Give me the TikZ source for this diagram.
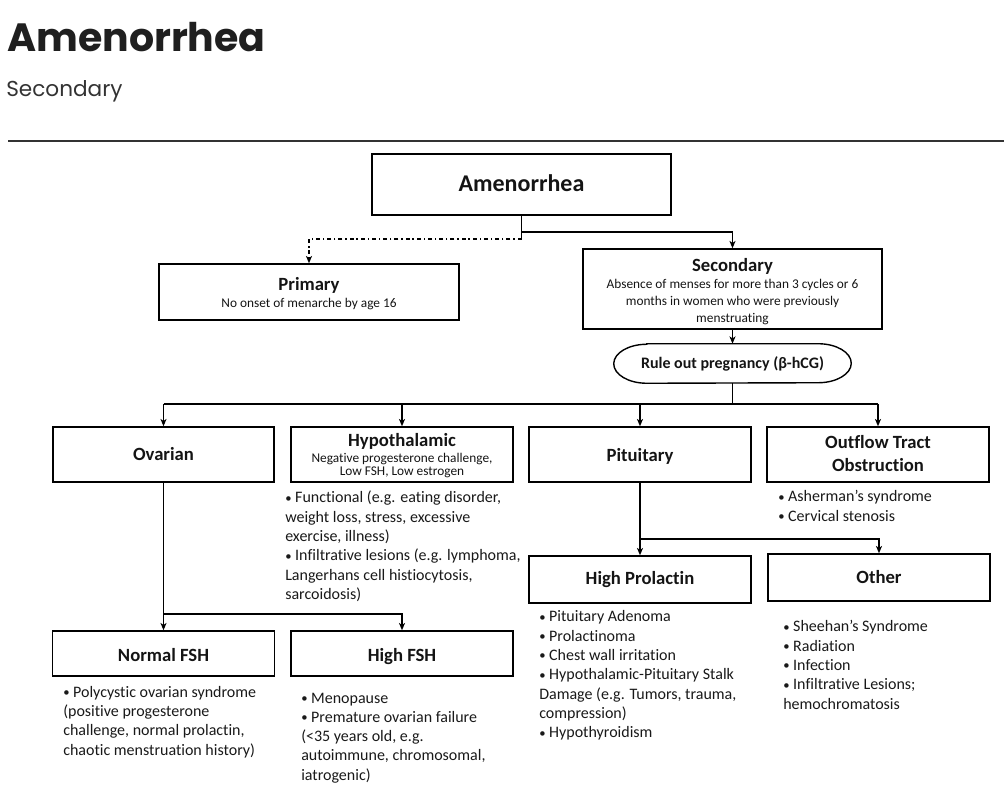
\documentclass[tikz,border=0pt]{standalone}
\usepackage{fontspec}
\setmainfont{Carlito}[Ligatures={NoCommon}]
\newfontfamily\headfont{Poppins}
\usetikzlibrary{arrows.meta}
\newcommand\bu{{\fontsize{9.5}{9.5}\selectfont\raisebox{0.6pt}{•}}\ }
\begin{document}
\begin{tikzpicture}[x=0.75pt,y=-0.75pt,
  sz/.style 2 args={minimum width=#1*0.75pt, minimum height=#2*0.75pt},
  box/.style={draw=black, line width=1.05pt, inner sep=0pt},
  lbl/.style={anchor=base, inner sep=0pt, text=black!92},
  ttl/.style={lbl, font=\fontsize{14}{17}\selectfont\bfseries},
  sub/.style={lbl, font=\fontsize{10}{12}\selectfont},
  conn/.style={draw=black, line width=1pt},
  arr/.style={conn, -{Stealth[length=5.5pt,width=4.5pt,inset=1.5pt]}},
  dashdot/.style={dash pattern=on 3pt off 2.2pt on 1pt off 2.2pt},
  bl/.style={anchor=base west, inner sep=0pt, text=black!90, font=\fontsize{12}{14.5}\selectfont}
]
\useasboundingbox (0,0) rectangle (1004,798);

% header
\node[anchor=base west, inner sep=0pt, text=black!88, font=\headfont\bfseries\fontsize{29.6}{34}\selectfont] (title) at (7,52) {Amenorrhea};
\node[anchor=base west, inner sep=0pt, text=black!80, font=\headfont\fontsize{16.2}{19}\selectfont] (subttl) at (6,97) {Secondary};
\coordinate (ruleL) at (8,141);
\coordinate (ruleR) at (1004,141);
\draw[line width=1pt, black!80] (ruleL) -- (ruleR);

% boxes
\node[box, sz={299}{61}] (amen) at (521.5,184.5) {};
\node[box, sz={300}{56}] (prim) at (309,292) {};
\node[box, sz={299}{80}] (sec) at (732.5,289) {};
\node[inner sep=0pt, sz={237}{39}, font=\fontsize{12}{14}\selectfont\bfseries, text=black!92] (rule) at (732.5,363.5) {Rule out pregnancy (β-hCG)};
\draw[line width=1.05pt] ([xshift=24.75pt]rule.north west) -- ([xshift=-24.75pt]rule.north east)
  arc[start angle=90, end angle=-90, x radius=24.75pt, y radius=14.625pt]
  -- ([xshift=24.75pt]rule.south west)
  arc[start angle=270, end angle=90, x radius=24.75pt, y radius=14.625pt] -- cycle;

\node[box, sz={221}{55}] (ovar) at (163.5,454.5) {};
\node[box, sz={222}{55}] (hypo) at (402,454.5) {};
\node[box, sz={222}{55}] (pit) at (640,454.5) {};
\node[box, sz={222}{55}] (out) at (878,454.5) {};

\node[box, sz={222}{45}] (nfsh) at (163.5,653.5) {};
\node[box, sz={222}{45}] (hfsh) at (402,653.5) {};
\node[box, sz={222}{47}] (hpro) at (640,579.5) {};
\node[box, sz={222}{47}] (oth) at (879,577.5) {};

% labels in boxes
\node[lbl, font=\fontsize{18}{22}\selectfont\bfseries] (amenT) at (521.5,192) {Amenorrhea};
\node[ttl] (primT) at (309,291) {Primary};
\node[sub] (primS) at (309,308) {No onset of menarche by age 16};
\node[ttl] (secT) at (732.5,272) {Secondary};
\node[sub] (secS) at (732.5,289) {\parbox[t]{220pt}{\centering\fontsize{10}{12.4}\selectfont Absence of menses for more than 3 cycles or 6\\ months in women who were previously\\ menstruating}};
\node[ttl] (ovarT) at (163.5,461) {Ovarian};
\node[ttl] (hypoT) at (402,447) {Hypothalamic};
\node[sub] (hypoS) at (402,463) {\parbox[t]{200pt}{\centering\fontsize{10}{9.75}\selectfont Negative progesterone challenge,\\ Low FSH, Low estrogen}};
\node[ttl] (pitT) at (640,462) {Pituitary};
\node[ttl] (outT) at (878,449) {\parbox[t]{200pt}{\centering\fontsize{14}{17.25}\selectfont Outflow Tract\\ Obstruction}};
\node[ttl] (nfshT) at (163.5,661) {Normal FSH};
\node[ttl] (hfshT) at (402,661) {High FSH};
\node[ttl] (hproT) at (640,585) {High Prolactin};
\node[ttl] (othT) at (879,584) {Other};

% bullet lists
\node[bl] (hypoL) at (285,503) {\parbox[t]{400pt}{\bu Functional (e.g. eating disorder,\\ weight loss, stress, excessive\\ exercise, illness)\\ \bu Infiltrative lesions (e.g. lymphoma,\\ Langerhans cell histiocytosis,\\ sarcoidosis)}};
\node[bl] (outL) at (778,502) {\parbox[t]{400pt}{\bu Asherman’s syndrome\\ \bu Cervical stenosis}};
\node[bl] (nfshL) at (63,697) {\parbox[t]{400pt}{\bu Polycystic ovarian syndrome\\ (positive progesterone\\ challenge, normal prolactin,\\ chaotic menstruation history)}};
\node[bl] (hfshL) at (301,703) {\parbox[t]{400pt}{\bu Menopause\\ \bu Premature ovarian failure\\ (<35 years old, e.g.\\ autoimmune, chromosomal,\\ iatrogenic)}};
\node[bl] (hproL) at (539,622) {\parbox[t]{400pt}{\bu Pituitary Adenoma\\ \bu Prolactinoma\\ \bu Chest wall irritation\\ \bu Hypothalamic-Pituitary Stalk\\ Damage (e.g. Tumors, trauma,\\ compression)\\ \bu Hypothyroidism}};
\node[bl] (othL) at (783,632) {\parbox[t]{400pt}{\bu Sheehan’s Syndrome\\ \bu Radiation\\ \bu Infection\\ \bu Infiltrative Lesions;\\ hemochromatosis}};

% connectors
\coordinate (j1) at (521.5,232);
\coordinate (j0) at (521.5,239);
\draw[conn] (amen.south) -- (j0);
\draw[arr] (j1) -| (sec.north);
\draw[arr, dashdot] (j0) -| (prim.north);
\draw[arr] (sec.south) -- (rule.north);
\coordinate (j2) at (732.5,404);
\draw[conn] (rule.south) -- (j2);
\draw[conn] (ovar.north |- j2) -- (out.north |- j2);
\draw[arr] (ovar.north |- j2) -- (ovar.north);
\draw[arr] (hypo.north |- j2) -- (hypo.north);
\draw[arr] (pit.north |- j2) -- (pit.north);
\draw[arr] (out.north |- j2) -- (out.north);
\coordinate (j3) at (163.5,614);
\draw[arr] (ovar.south) -- (nfsh.north);
\draw[arr] (j3) -| (hfsh.north);
\coordinate (j4) at (640,539);
\draw[arr] (pit.south) -- (hpro.north);
\draw[arr] (j4) -| (oth.north);
\end{tikzpicture}
\end{document}
